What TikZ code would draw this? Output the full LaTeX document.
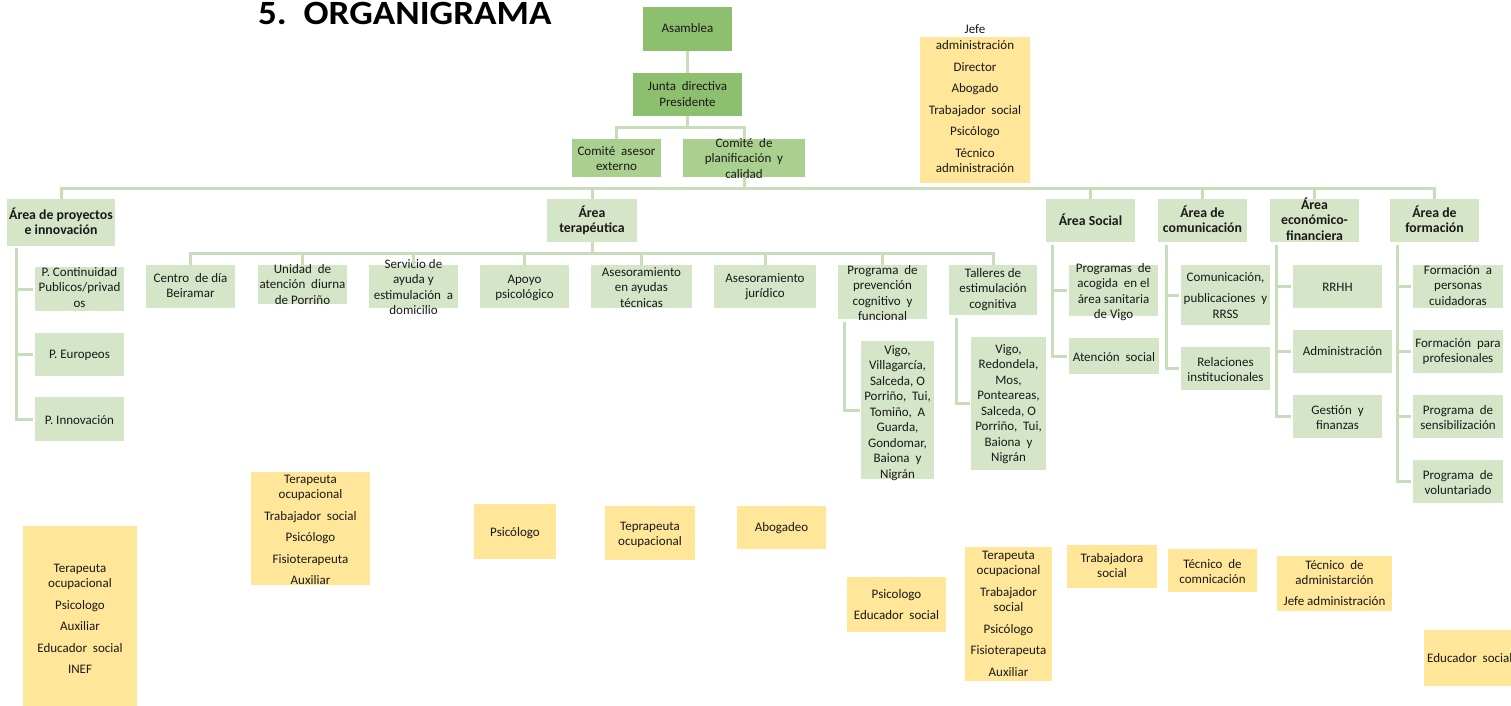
\documentclass[tikz,border=0pt]{standalone}
\usepackage{fontspec}
\setmainfont{Carlito}
\usepackage{graphicx}
\definecolor{gdark}{RGB}{141,192,110}
\definecolor{gmid}{RGB}{169,208,142}
\definecolor{gpale}{RGB}{213,229,199}
\definecolor{ylw}{RGB}{255,230,153}
\definecolor{lnc}{RGB}{200,222,186}
\definecolor{txc}{RGB}{25,25,25}
\newcommand\dsp{\ \ }
\tikzset{
  dark/.style={fill=gdark, draw=none, inner sep=0pt},
  mid/.style={fill=gmid, draw=none, inner sep=0pt},
  area/.style={fill=gpale, draw=none, inner sep=0pt},
  pale/.style={fill=gpale, draw=none, inner sep=0pt},
  yel/.style={fill=ylw, draw=none, inner sep=0pt},
  txt/.style={inner sep=0pt, anchor=base, text=txc, font=\fontsize{13}{15.5}\selectfont},
  dark t/.style={txt},
  mid t/.style={txt},
  pale t/.style={txt},
  yel t/.style={txt},
  area t/.style={txt, font=\bfseries\fontsize{13.8}{15.5}\selectfont},
  conn/.style={draw=lnc, line width=3pt},
}
\newcommand\bx[8]{%
  \pgfmathsetmacro\bw{#5-#3}\pgfmathsetmacro\bh{#6-#4}%
  \pgfmathsetmacro\bcx{(#3+#5)/2}\pgfmathsetmacro\bcy{(#4+#6)/2}%
  \node[#2, minimum width=\bw pt, minimum height=\bh pt] (#1) at (\bcx,\bcy) {};
  \node[#2 t] (#1t) at (\bcx,#7) {\begin{tabular}[t]{@{}c@{}}#8\end{tabular}};}
\begin{document}
\begin{tikzpicture}[x=1pt,y=-1pt]
\useasboundingbox (0,0) rectangle (1511,706);
\clip (0,0) rectangle (1511,706);
\fill[white] (0,0) rectangle (1511,706);
\node[anchor=base west, inner sep=0pt, text=black, font=\bfseries\fontsize{34}{34}\selectfont] (title) at (258,25) {\scalebox{1.09}[1]{5.\ \ ORGANIGRAMA}};
% top
\bx{asam}{dark}{643}{7}{732}{51}{33}{Asamblea}
\bx{jd}{dark}{633}{73}{742}{116}{91}{Junta\dsp directiva\\Presidente}
\bx{cae}{mid}{572}{139}{661}{177}{155}{Comité\dsp asesor\\externo}
\bx{cpc}{mid}{683}{139}{805}{177}{147}{Comité\dsp de\\planificación\dsp y\\calidad}
% areas
\bx{apx}{area}{7}{199}{115}{246}{219}{Área de proyectos\\e innovación}
\bx{ater}{area}{547}{199}{637}{242}{217}{Área\\terapéutica}
\bx{asoc}{area}{1046}{199}{1135}{242}{225}{Área Social}
\bx{acom}{area}{1158}{199}{1247}{242}{217}{Área de\\comunicación}
\bx{aeco}{area}{1270}{199}{1359}{242}{209}{Área\\económico-\\financiera}
\bx{afor}{area}{1390}{199}{1479}{242}{217}{Área de\\formación}
% proyectos
\bx{pci}{pale}{35}{267}{124}{311}{276}{P. Continuidad\\Publicos/privad\\os}
\bx{peu}{pale}{35}{333}{124}{376}{358}{P. Europeos}
\bx{pin}{pale}{35}{397}{124}{441}{424}{P. Innovación}
% terapeutica
\bx{cdb}{pale}{146}{265}{235}{308}{282}{Centro\dsp de día\\Beiramar}
\bx{udp}{pale}{258}{265}{347}{304}{273}{Unidad\dsp de\\atención\dsp diurna\\de Porriño}
\bx{sad}{pale}{369}{265}{458}{308}{268}{Servicio de\\ayuda y\\estimulación\dsp a\\domicilio}
\bx{apo}{pale}{480}{265}{569}{308}{283}{Apoyo\\psicológico}
\bx{aat}{pale}{591}{265}{692}{308}{276}{Asesoramiento\\en ayudas\\técnicas}
\bx{aj}{pale}{714}{265}{816}{308}{282}{Asesoramiento\\jurídico}
\bx{ppc}{pale}{838}{265}{927}{319}{274}{Programa\dsp de\\prevención\\cognitivo\dsp y\\funcional}
\bx{tec}{pale}{949}{265}{1037}{315}{277}{Talleres de\\estimulación\\cognitiva}
\bx{vla}{pale}{861}{341}{934}{479}{354}{Vigo,\\Villagarcía,\\Salceda, O\\Porriño,\dsp Tui,\\Tomiño,\dsp A\\Guarda,\\Gondomar,\\Baiona\dsp y\\Nigrán}
\bx{vlb}{pale}{971}{337}{1046}{470}{353}{Vigo,\\Redondela,\\Mos,\\Ponteareas,\\Salceda, O\\Porriño,\dsp Tui,\\Baiona\dsp y\\Nigrán}
% social
\bx{pac}{pale}{1069}{265}{1158}{316}{272}{Programas\dsp de\\acogida\dsp en el\\área sanitaria\\de Vigo}
\bx{ats}{pale}{1069}{338}{1159}{374}{361}{Atención\dsp social}
% comunicacion
\bx{cpr}{pale}{1181}{265}{1270}{325}{281}{Comunicación,\\[6pt]publicaciones\dsp y\\RRSS}
\bx{rin}{pale}{1181}{347}{1270}{390}{366}{Relaciones\\institucionales}
% economico
\bx{rrhh}{pale}{1293}{265}{1382}{308}{291}{RRHH}
\bx{adm}{pale}{1293}{330}{1392}{373}{355}{Administración}
\bx{gyf}{pale}{1293}{395}{1382}{438}{414}{Gestión\dsp y\\finanzas}
% formacion
\bx{fpc}{pale}{1413}{265}{1503}{308}{274}{Formación\dsp a\\personas\\cuidadoras}
\bx{fpp}{pale}{1413}{330}{1503}{373}{347}{Formación\dsp para\\profesionales}
\bx{psen}{pale}{1413}{395}{1503}{438}{414}{Programa\dsp de\\sensibilización}
\bx{pvol}{pale}{1413}{460}{1503}{503}{479}{Programa\dsp de\\voluntariado}
% yellow
\bx{yjefe}{yel}{920}{37}{1030}{183}{34}{Jefe\\administración\\[6.5pt]Director\\[6pt]Abogado\\[6pt]Trabajador\dsp social\\[6pt]Psicólogo\\[6pt]Técnico\\administración}
\bx{yla}{yel}{23}{526}{137}{716}{572}{Terapeuta\\ocupacional\\[6pt]Psicologo\\[6pt]Auxiliar\\[6pt]Educador\dsp social\\[6pt]INEF}
\bx{ylb}{yel}{251}{472}{370}{585}{483}{Terapeuta\\ocupacional\\[6pt]Trabajador\dsp social\\[6pt]Psicólogo\\[6pt]Fisioterapeuta\\[6pt]Auxiliar}
\bx{yps}{yel}{474}{504}{556}{559}{536}{Psicólogo}
\bx{ytep}{yel}{605}{506}{695}{560}{530}{Teprapeuta\\ocupacional}
\bx{yabo}{yel}{737}{506}{826}{549}{531}{Abogadeo}
\bx{ype}{yel}{847}{577}{946}{632}{598}{Psicologo\\[6pt]Educador\dsp social}
\bx{yter}{yel}{965}{547}{1052}{681}{559}{Terapeuta\\ocupacional\\[6pt]Trabajador\\social\\[6pt]Psicólogo\\[6pt]Fisioterapeuta\\[6pt]Auxiliar}
\bx{ytra}{yel}{1067}{545}{1157}{588}{562}{Trabajadora\\social}
\bx{ytc}{yel}{1168}{549}{1257}{592}{568}{Técnico\dsp de\\comnicación}
\bx{yta}{yel}{1277}{556}{1392}{611}{569}{Técnico\dsp de\\administarción\\[5pt]Jefe administración}
\node[yel, minimum width=96pt, minimum height=56pt] (yed) at (1472,658) {};
\node[txt, anchor=base west] (yedt) at (1427,662) {Educador\dsp social};
% connectors
\draw[conn] (asam) -- (jd);
\foreach \n in {cae,cpc} \draw[conn] (jd.south) -- ++(0,11) -| (\n.north);
\foreach \n in {apx,ater,asoc,acom,aeco,afor} \draw[conn] (cpc.south) -- ++(0,11) -| (\n.north);
\foreach \n in {cdb,udp,sad,apo,aat,aj,ppc,tec} \draw[conn] (ater.south) -- ++(0,11) -| (\n.north);
\foreach \n in {pci,peu,pin} \draw[conn] ([xshift=10pt,yshift=-2pt]apx.south west) |- ([xshift=-2pt]\n.west);
\draw[conn] ([xshift=7pt,yshift=-3pt]ppc.south west) |- ([xshift=-1pt]vla.west);
\draw[conn] ([xshift=8pt,yshift=-3pt]tec.south west) |- ([xshift=-1pt]vlb.west);
\foreach \n in {pac,ats} \draw[conn] ([xshift=7pt,yshift=-3pt]asoc.south west) |- ([xshift=-2pt]\n.west);
\foreach \n in {cpr,rin} \draw[conn] ([xshift=9pt,yshift=-3pt]acom.south west) |- ([xshift=-2pt]\n.west);
\foreach \n in {rrhh,adm,gyf} \draw[conn] ([xshift=7pt,yshift=-3pt]aeco.south west) |- ([xshift=-2pt]\n.west);
\foreach \n in {fpc,fpp,psen,pvol} \draw[conn] ([xshift=8pt,yshift=-3pt]afor.south west) |- ([xshift=-2pt]\n.west);
\end{tikzpicture}
\end{document}
